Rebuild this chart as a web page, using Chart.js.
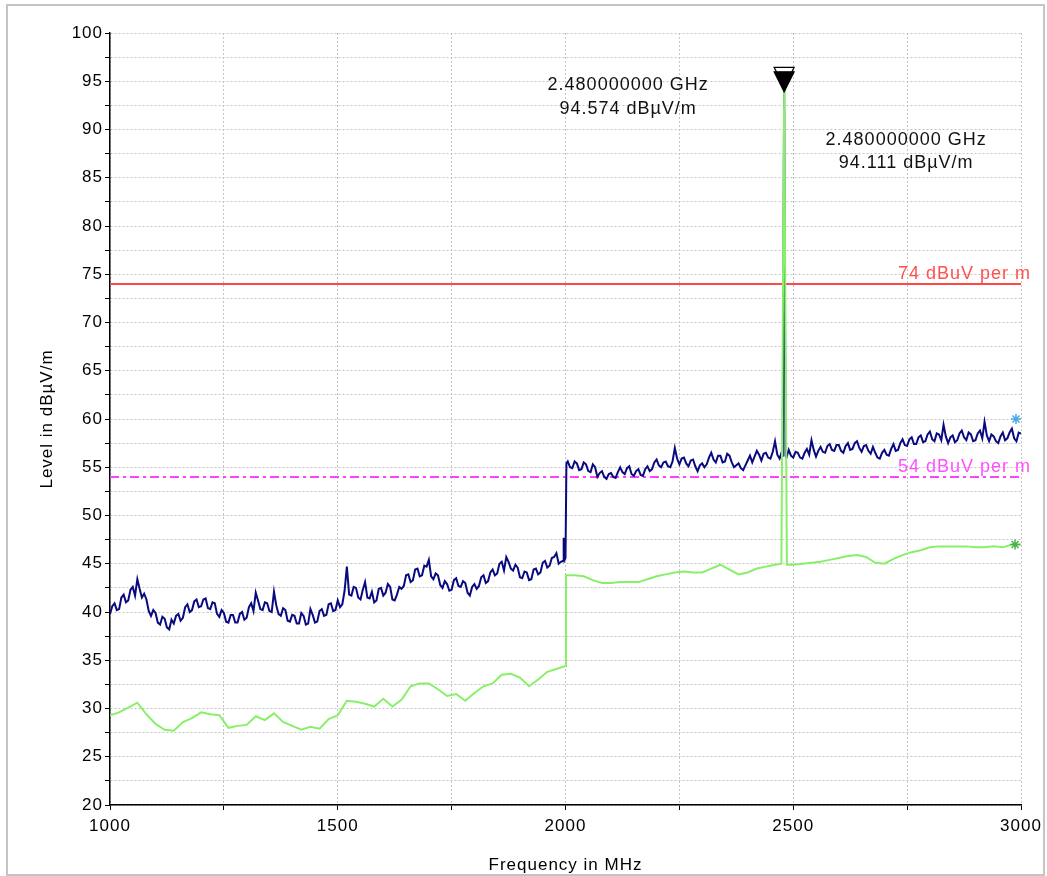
<!DOCTYPE html>
<html lang="en">
<head>
<meta charset="UTF-8">
<title>Level vs Frequency</title>
<script src="https://cdn.jsdelivr.net/npm/chart.js"></script>
<style>
  body { margin: 0; background: #fff; overflow: hidden; }
</style>
</head>
<body>
<canvas id="scan" width="1047" height="876"></canvas>
<script>
// blue trace, one reading every 10 MHz from 1000 to 3000 MHz
const blueStart = 1000, blueStep = 10;
const blueLevel = [
  39.8, 40.9, 40.3, 41.8, 41.2, 42.6, 43.4, 41.5, 41.3, 39.6,
  39.9, 38.7, 39.3, 38.2, 38.8, 39.8, 39.4, 40.8, 40.2, 41.3,
  40.6, 41.4, 40.3, 40.9, 39.5, 39.9, 38.9, 39.7, 38.9, 40.0,
  39.4, 40.9, 42.0, 40.3, 41.0, 40.1, 42.1, 39.8, 40.4, 39.1,
  39.7, 38.8, 39.9, 38.7, 40.3, 38.9, 40.1, 39.6, 40.8, 40.1,
  41.2, 40.8, 44.7, 41.7, 42.5, 41.3, 43.1, 41.4, 41.0, 42.4,
  41.7, 42.9, 41.3, 41.8, 42.4, 43.8, 43.1, 44.4, 43.7, 44.8,
  45.4, 43.4, 43.8, 42.5, 42.9, 42.3, 43.5, 42.6, 43.0, 41.7,
  42.9, 42.7, 43.8, 43.2, 44.4, 44.0, 45.2, 45.7, 44.5, 44.9,
  43.6, 44.2, 43.3, 44.4, 43.9, 45.1, 44.6, 45.6, 46.1, 45.2,
  45.6, 55.0, 55.6, 54.7, 55.5, 54.6, 55.3, 54.0, 54.6, 53.8,
  54.4, 53.9, 55.0, 54.3, 55.1, 54.1, 54.8, 54.1, 55.1, 54.8,
  55.8, 55.0, 55.6, 55.0, 57.0, 55.3, 56.0, 55.1, 55.8, 54.6,
  55.4, 55.3, 56.5, 55.5, 56.2, 55.6, 56.2, 55.0, 55.4, 54.7,
  55.7, 55.5, 56.7, 55.7, 56.5, 55.9, 57.7, 55.9, 94.574, 56.8,
  56.0, 56.5, 55.9, 56.9, 57.8, 56.1, 57.1, 56.5, 57.4, 56.7,
  57.3, 56.5, 57.5, 56.9, 57.7, 56.6, 57.3, 56.4, 56.5, 55.9,
  56.8, 56.2, 57.4, 56.8, 57.9, 57.2, 58.1, 57.4, 58.3, 57.7,
  58.7, 57.7, 58.4, 59.4, 57.5, 58.3, 57.8, 58.8, 57.8, 58.4,
  57.8, 58.8, 59.7, 57.7, 58.2, 57.5, 58.6, 58.0, 59.0, 57.7,
  58.5
];
// blue readings halfway between the 10 MHz points (1005 ... 2995 MHz)
const blueMid = [
  40.6, 40.2, 41.5, 41.0, 42.3, 41.7, 42.4, 41.9, 40.1, 40.2,
  38.9, 39.5, 38.4, 39.2, 39.6, 39.1, 40.5, 40.0, 41.1, 40.5,
  41.3, 40.4, 41.0, 39.8, 40.2, 39.0, 39.7, 38.9, 39.8, 39.2,
  40.5, 40.1, 41.2, 40.2, 40.9, 40.0, 40.7, 39.6, 40.2, 39.0,
  39.6, 38.8, 39.6, 38.8, 39.7, 39.0, 40.3, 39.7, 40.9, 40.2,
  40.5, 42.2, 41.8, 42.6, 41.5, 42.3, 41.5, 42.1, 41.2, 42.5,
  42.0, 42.6, 41.2, 42.6, 42.7, 43.9, 43.3, 44.5, 43.8, 44.7,
  43.7, 44.0, 42.8, 43.2, 42.2, 43.3, 42.7, 43.2, 42.0, 42.6,
  42.4, 43.6, 43.0, 44.1, 43.8, 45.0, 44.3, 45.2, 44.3, 44.6,
  43.5, 44.1, 43.4, 44.5, 44.1, 45.3, 44.8, 45.7, 45.0, 45.3,
  55.6, 54.9, 55.4, 54.8, 55.3, 54.5, 55.0, 54.4, 54.0, 54.3,
  54.0, 54.5, 54.5, 54.9, 54.3, 54.6, 54.2, 54.8, 54.6, 55.5,
  55.2, 55.5, 55.1, 55.6, 55.9, 55.9, 55.4, 55.7, 55.1, 55.2,
  55.0, 56.0, 55.8, 56.2, 55.5, 56.4, 55.5, 55.2, 54.9, 55.2,
  56.2, 56.1, 56.3, 56.4, 56.0, 56.6, 56.3, 56.6, 56.0, 56.2,
  56.6, 56.0, 56.5, 56.3, 56.8, 56.7, 56.6, 57.2, 56.8, 57.3,
  56.7, 57.2, 56.8, 57.5, 57.0, 57.2, 56.7, 57.1, 56.0, 56.5,
  56.3, 56.9, 56.7, 57.5, 57.3, 57.9, 57.4, 58.1, 57.6, 58.4,
  57.9, 58.5, 57.8, 58.2, 58.1, 57.6, 58.5, 58.1, 58.6, 57.7,
  58.5, 58.0, 58.3, 58.4, 57.7, 58.2, 57.8, 58.6, 58.0, 58.6
];
// extra blue readings around the steps: [MHz, dBuV/m]
const blueExtra = [[1996, 47.7], [1998, 45.4], [2002, 55.4], [2477, 56.1], [2483, 56.2]];

// green trace, one reading every 20 MHz
const greenStart = 1000, greenStep = 20;
const greenLevel = [
  29.3, 29.6, 30.1, 30.6, 29.4,
  28.4, 27.8, 27.7, 28.6, 29.0,
  29.6, 29.4, 29.3, 28.0, 28.2,
  28.3, 29.2, 28.8, 29.5, 28.6,
  28.2, 27.8, 28.1, 27.9, 28.9,
  29.3, 30.8, 30.7, 30.5, 30.2,
  31.0, 30.2, 30.9, 32.3, 32.6,
  32.6, 32.0, 31.3, 31.5, 30.8,
  31.6, 32.3, 32.6, 33.5, 33.6,
  33.2, 32.3, 33.0, 33.8, 34.1,
  34.4, 43.8, 43.7, 43.3, 43.0,
  43.0, 43.1, 43.1, 43.1, 43.4,
  43.7, 43.9, 44.1, 44.2, 44.1,
  44.1, 44.5, 44.9, 44.4, 43.9,
  44.1, 44.5, 44.7, 44.9, 94.111,
  44.9, 45.0, 45.1, 45.2, 45.4,
  45.6, 45.8, 45.9, 45.7, 45.1,
  45.0, 45.5, 45.9, 46.2, 46.4,
  46.7, 46.8, 46.8, 46.8, 46.8,
  46.7, 46.7, 46.8, 46.7, 47.0,
  47.0
];
const greenExtra = [[2001, 43.8], [2474, 45.0], [2486, 44.9]];

// limit lines
const limitFreq = [1000, 3000];
const limitLevel = [74, 54];
const limitText = ['74 dBuV per m', '54 dBuV per m'];

// peak markers
const markerFreq = [2480, 2480];
const markerLevel = [94.574, 94.111];
const markerText = [
  ['2.480000000 GHz', '94.574 dBµV/m'],
  ['2.480000000 GHz', '94.111 dBµV/m']
];

// trace end stars
const endFreq = [2989, 2987];
const endLevel = [60.0, 47.0];

function buildSeries(start, step, levels, mids, extra) {
  const pts = levels.map((v, i) => ({ x: start + i * step, y: v }));
  mids.forEach((v, i) => pts.push({ x: start + step / 2 + i * step, y: v }));
  extra.forEach(([x, y]) => pts.push({ x: x, y: y }));
  pts.sort((a, b) => a.x - b.x);
  return pts;
}

const FONT = '"Liberation Sans", Arial, sans-serif';

const decor = {
  id: 'decor',
  beforeDraw(chart) {
    const ctx = chart.ctx;
    ctx.letterSpacing = '1px';
    ctx.save();
    ctx.fillStyle = '#fff';
    ctx.fillRect(0, 0, chart.width, chart.height);
    ctx.strokeStyle = '#c4c4c4';
    ctx.lineWidth = 2;
    ctx.strokeRect(7, 5, 1037, 870);
    ctx.restore();
  },
  afterDatasetsDraw(chart) {
    const ctx = chart.ctx;
    const xs = chart.scales.x, ys = chart.scales.y;
    ctx.save();
    ctx.letterSpacing = '1px';
    ctx.font = '18px ' + FONT;

    // limit line labels
    const colors = ['#ff5050', '#ff50ff'];
    ctx.textAlign = 'right';
    ctx.textBaseline = 'alphabetic';
    limitLevel.forEach((lv, i) => {
      ctx.fillStyle = colors[i];
      ctx.fillText(limitText[i], xs.getPixelForValue(limitFreq[1]) + 10, ys.getPixelForValue(lv) - 5);
    });

    // marker triangles
    markerFreq.forEach((f, i) => {
      const px = xs.getPixelForValue(f);
      const py = ys.getPixelForValue(markerLevel[i]) + 2;
      ctx.beginPath();
      ctx.moveTo(px - 10, py - 20);
      ctx.lineTo(px + 10, py - 20);
      ctx.lineTo(px, py);
      ctx.closePath();
      ctx.fillStyle = i === 0 ? '#fff' : '#000';
      ctx.fill();
      ctx.strokeStyle = '#000';
      ctx.lineWidth = 1.2;
      ctx.stroke();
    });

    // marker readouts
    ctx.fillStyle = '#111';
    ctx.textAlign = 'center';
    ctx.textBaseline = 'middle';
    const p0x = xs.getPixelForValue(markerFreq[0]);
    const p0y = ys.getPixelForValue(markerLevel[0]);
    ctx.fillText(markerText[0][0], p0x - 156, p0y);
    ctx.fillText(markerText[0][1], p0x - 156, p0y + 24);
    const p1x = xs.getPixelForValue(markerFreq[1]);
    const p1y = ys.getPixelForValue(markerLevel[1]);
    ctx.fillText(markerText[1][0], p1x + 122, p1y + 50);
    ctx.fillText(markerText[1][1], p1x + 122, p1y + 73);
    ctx.restore();
  }
};

const ctx = document.getElementById('scan').getContext('2d');
new Chart(ctx, {
  type: 'line',
  data: {
    datasets: [
      {
        label: 'ends',
        data: endFreq.map((f, i) => ({ x: f, y: endLevel[i] })),
        showLine: false,
        pointStyle: 'star',
        pointRadius: 5,
        borderWidth: 1.5,
        pointBorderColor: ['#4aa8e8', '#4cb04c'],
        order: 0
      },
      {
        label: 'green',
        data: buildSeries(greenStart, greenStep, greenLevel, [], greenExtra),
        borderColor: '#88f068',
        borderWidth: 2,
        pointRadius: 0,
        tension: 0,
        order: 1
      },
      {
        label: 'blue',
        data: buildSeries(blueStart, blueStep, blueLevel, blueMid, blueExtra),
        borderColor: '#0a0a80',
        borderWidth: 2,
        pointRadius: 0,
        tension: 0,
        order: 2
      },
      {
        label: '54',
        data: limitFreq.map(f => ({ x: f, y: limitLevel[1] })),
        borderColor: '#ff40ff',
        borderWidth: 2,
        borderDash: [9, 4, 3, 4],
        pointRadius: 0,
        order: 3
      },
      {
        label: '74',
        data: limitFreq.map(f => ({ x: f, y: limitLevel[0] })),
        borderColor: '#ff4848',
        borderWidth: 2,
        pointRadius: 0,
        order: 4
      }
    ]
  },
  options: {
    responsive: false,
    animation: false,
    events: [],
    layout: { padding: { left: 0, right: 26, top: 33, bottom: 0 } },
    plugins: { legend: { display: false }, tooltip: { enabled: false } },
    scales: {
      x: {
        type: 'linear',
        min: 1000,
        max: 3000,
        afterFit(scale) { scale.height = 71; },
        ticks: {
          stepSize: 250,
          autoSkip: false,
          maxRotation: 0,
          padding: 6,
          color: '#000',
          font: { family: FONT, size: 17 },
          callback: v => (v % 500 === 0 ? v : '')
        },
        grid: { color: '#c4c4c4', lineWidth: 1, tickLength: 5, tickColor: '#000', tickWidth: 1 },
        border: { display: true, color: '#000', width: 1.5, dash: [2, 2] },
        title: {
          display: true,
          text: 'Frequency in MHz',
          color: '#000',
          font: { family: FONT, size: 17 },
          padding: { top: 0, bottom: 0 }
        }
      },
      y: {
        min: 20,
        max: 100,
        afterFit(scale) { scale.width = 110; },
        ticks: {
          stepSize: 2.5,
          autoSkip: false,
          padding: 2,
          color: '#000',
          font: { family: FONT, size: 17 },
          callback: v => (v % 5 === 0 ? v : '')
        },
        grid: { color: '#c4c4c4', lineWidth: 1, tickLength: 5, tickColor: '#000', tickWidth: 1 },
        border: { display: true, color: '#000', width: 1.5, dash: [2, 2] },
        title: {
          display: true,
          text: 'Level in dBµV/m',
          color: '#000',
          font: { family: FONT, size: 17 },
          padding: { top: 37, bottom: 0 }
        }
      }
    }
  },
  plugins: [decor]
});
</script>
</body>
</html>
